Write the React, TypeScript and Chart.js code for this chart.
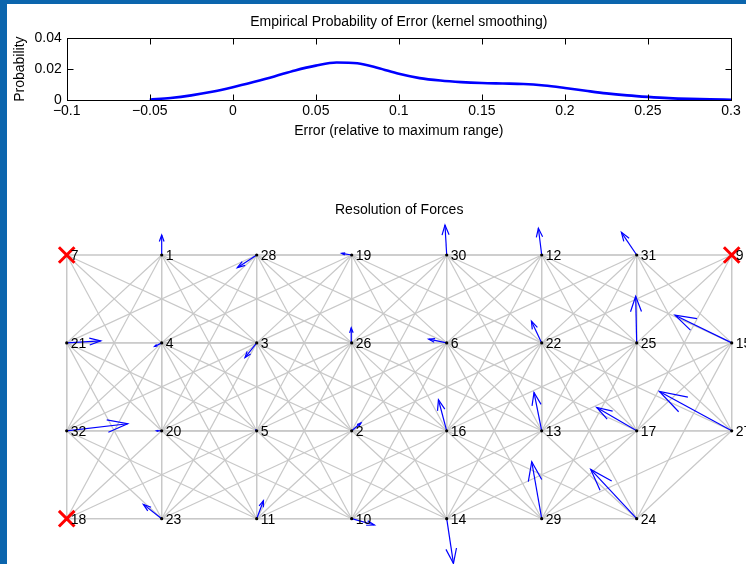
import { useEffect, useRef } from 'react';
import { Chart, registerables } from 'chart.js';

Chart.register(...registerables);

const FONT = "'Liberation Sans', Arial, Helvetica, sans-serif";

// Kernel-smoothed density of the relative error
const errorGrid = [
  -0.05, -0.0375, -0.025, -0.0125, 0, 0.0125, 0.025, 0.0375, 0.05, 0.0625, 0.075, 0.0875,
  0.1, 0.1125, 0.125, 0.1375, 0.15, 0.1625, 0.175, 0.1875, 0.2, 0.2125, 0.225, 0.2375, 0.25,
  0.2625, 0.275, 0.2875, 0.3,
];
const errorDensity = [
  0.0002, 0.0013, 0.003, 0.0053, 0.0083, 0.0117, 0.0153, 0.0192, 0.0223, 0.0243, 0.0238, 0.0208,
  0.017, 0.0142, 0.0126, 0.0116, 0.011, 0.0107, 0.0104, 0.0094, 0.0078, 0.006, 0.0043, 0.003, 0.002,
  0.0012, 0.0007, 0.0004, 0.0002,
];
const errorTicks = { min: -0.1, max: 0.3, step: 0.05 };
const probTicks = { min: 0, max: 0.04, step: 0.02 };

// Truss joints (grid column / level) and the resolved force at each joint
const jointIds = [1, 2, 3, 4, 5, 6, 7, 9, 10, 11, 12, 13, 14, 15, 16, 17, 18, 19, 20, 21, 22, 23, 24, 25, 26, 27, 28, 29, 30, 31, 32];
const jointX = [1, 3, 2, 1, 2, 4, 0, 7, 3, 2, 5, 5, 4, 7, 4, 6, 0, 3, 1, 0, 5, 1, 6, 6, 3, 7, 2, 5, 4, 6, 0];
const jointY = [3, 1, 2, 2, 1, 2, 3, 3, 0, 0, 3, 1, 0, 2, 1, 1, 0, 3, 1, 2, 2, 0, 0, 2, 2, 1, 3, 0, 3, 3, 1];
const forceU = [0, 0.098, -0.123, -0.074, -0.01, -0.189, 0, 0, 0.239, 0.071, -0.035, -0.081, 0.071, -0.597, -0.087, -0.421, 0, -0.105, -0.053, 0.358, -0.108, -0.193, -0.484, -0.011, -0.005, -0.761, -0.204, -0.105, -0.018, -0.161, 0.642];
const forceV = [0.228, 0.088, -0.167, -0.04, 0.01, 0.042, 0, 0, -0.072, 0.205, 0.304, 0.436, -0.509, 0.315, 0.353, 0.265, 0, 0.019, 0, 0.023, 0.247, 0.163, 0.561, 0.531, 0.171, 0.447, -0.144, 0.648, 0.341, 0.258, 0.08];
const fixedJoints = [7, 9, 18];
// members join every pair of joints up to a knight's move apart (squared grid distance)
const memberReachSq = 5;

const fmtTick = (v: number) => String(Math.round(v * 1000) / 1000).replace('-', '\u2212');

const framePlugin = {
  id: 'frame',
  afterDraw(chart: any) {
    const { ctx, chartArea, scales } = chart;
    const l = Math.round(chartArea.left) + 0.5;
    const r = Math.round(chartArea.right) + 0.5;
    const t = Math.round(chartArea.top) + 0.5;
    const b = Math.round(chartArea.bottom) + 0.5;
    const len = 6;
    ctx.save();
    ctx.strokeStyle = '#000';
    ctx.lineWidth = 1;
    ctx.beginPath();
    for (const tk of scales.x.ticks) {
      const px = Math.round(scales.x.getPixelForValue(tk.value)) + 0.5;
      ctx.moveTo(px, b);
      ctx.lineTo(px, b - len);
      ctx.moveTo(px, t);
      ctx.lineTo(px, t + len);
    }
    for (const tk of scales.y.ticks) {
      const py = Math.round(scales.y.getPixelForValue(tk.value)) + 0.5;
      ctx.moveTo(l, py);
      ctx.lineTo(l + len, py);
      ctx.moveTo(r, py);
      ctx.lineTo(r - len, py);
    }
    ctx.stroke();
    ctx.strokeRect(l, t, r - l, b - t);
    ctx.restore();
  },
};

const labelPlugin = {
  id: 'jointLabels',
  afterDatasetsDraw(chart: any) {
    const { ctx, scales } = chart;
    ctx.save();
    ctx.font = `14px ${FONT}`;
    ctx.fillStyle = '#000';
    ctx.textAlign = 'left';
    ctx.textBaseline = 'middle';
    jointIds.forEach((id, i) => {
      const px = scales.x.getPixelForValue(jointX[i]);
      const py = scales.y.getPixelForValue(jointY[i]);
      ctx.fillText(String(id), px + 4, py + 1.5);
    });
    ctx.restore();
  },
};

function buildTrussDatasets() {
  const sets: any[] = [];
  // anchors
  sets.push({
    data: fixedJoints.map((id) => {
      const i = jointIds.indexOf(id);
      return { x: jointX[i], y: jointY[i] };
    }),
    pointStyle: 'crossRot',
    pointRadius: 11,
    pointBorderWidth: 3,
    borderColor: '#ff0000',
    backgroundColor: '#ff0000',
    showLine: false,
    clip: false,
    order: 1,
  });
  // joints
  sets.push({
    data: jointIds.map((_, i) => ({ x: jointX[i], y: jointY[i] })),
    pointRadius: 1.6,
    pointBorderWidth: 0,
    backgroundColor: '#000',
    borderColor: '#000',
    showLine: false,
    clip: false,
    order: 2,
  });
  // force arrows (shaft + open head, quiver style)
  const a = 0.33;
  const bta = 0.33;
  jointIds.forEach((_, i) => {
    const u = forceU[i];
    const v = forceV[i];
    if (u === 0 && v === 0) return;
    const x0 = jointX[i];
    const y0 = jointY[i];
    const tx = x0 + u;
    const ty = y0 + v;
    const common = {
      showLine: true,
      borderColor: '#0000ff',
      borderWidth: 1.2,
      pointRadius: 0,
      clip: false,
      order: 3,
    };
    sets.push({ ...common, data: [{ x: x0, y: y0 }, { x: tx, y: ty }] });
    sets.push({
      ...common,
      data: [
        { x: tx - a * (u + bta * v), y: ty - a * (v - bta * u) },
        { x: tx, y: ty },
        { x: tx - a * (u - bta * v), y: ty - a * (v + bta * u) },
      ],
    });
  });
  // members
  for (let i = 0; i < jointIds.length; i++) {
    for (let j = i + 1; j < jointIds.length; j++) {
      const dx = jointX[i] - jointX[j];
      const dy = jointY[i] - jointY[j];
      if (dx * dx + dy * dy <= memberReachSq) {
        sets.push({
          data: [{ x: jointX[i], y: jointY[i] }, { x: jointX[j], y: jointY[j] }],
          showLine: true,
          borderColor: '#c8c8c8',
          borderWidth: 1.2,
          pointRadius: 0,
          clip: false,
          order: 4,
        });
      }
    }
  }
  return sets;
}

export default function App() {
  const topRef = useRef<HTMLCanvasElement>(null);
  const botRef = useRef<HTMLCanvasElement>(null);

  useEffect(() => {
    Chart.defaults.font.family = FONT;
    Chart.defaults.font.size = 14;
    Chart.defaults.color = '#000';

    const font = { family: FONT, size: 14, weight: 'normal' as const };

    const top = new Chart(topRef.current!, {
      type: 'scatter',
      data: {
        datasets: [
          {
            data: errorGrid.map((x, i) => ({ x, y: errorDensity[i] })),
            showLine: true,
            borderColor: '#0000ff',
            borderWidth: 2.6,
            pointRadius: 0,
            cubicInterpolationMode: 'monotone',
            clip: false,
          } as any,
        ],
      },
      options: {
        responsive: false,
        animation: false,
        events: [],
        layout: { padding: { left: 0, right: 15, top: 0, bottom: 20.6 } },
        plugins: {
          legend: { display: false },
          tooltip: { enabled: false },
          title: {
            display: true,
            fullSize: false,
            text: 'Empirical Probability of Error (kernel smoothing)',
            color: '#000',
            font,
            padding: { top: 13.4, bottom: 8.1 },
          },
        },
        scales: {
          x: {
            type: 'linear',
            min: errorTicks.min,
            max: errorTicks.max,
            grid: { display: false, drawTicks: false },
            border: { display: false },
            ticks: {
              stepSize: errorTicks.step,
              padding: 2.5,
              color: '#000',
              font,
              maxRotation: 0,
              autoSkip: false,
              callback: (v: any) => fmtTick(Number(v)),
            },
            title: { display: true, text: 'Error (relative to maximum range)', color: '#000', font, padding: 0 },
            afterFit: (s: any) => {
              s.height = 39.4;
            },
          },
          y: {
            type: 'linear',
            min: probTicks.min,
            max: probTicks.max,
            grid: { display: false, drawTicks: false },
            border: { display: false },
            ticks: {
              stepSize: probTicks.step,
              padding: 5,
              color: '#000',
              font,
              callback: (v: any) => fmtTick(Number(v)),
            },
            title: { display: true, text: 'Probability', color: '#000', font, padding: { top: 12.2, bottom: 0 } },
            afterFit: (s: any) => {
              s.width = 66.7;
            },
          },
        },
      },
      plugins: [framePlugin],
    });

    const bot = new Chart(botRef.current!, {
      type: 'scatter',
      data: { datasets: buildTrussDatasets() },
      options: {
        responsive: false,
        animation: false,
        events: [],
        layout: { padding: { left: 66.7, right: 14.3, top: 0, bottom: 45.3 } },
        plugins: {
          legend: { display: false },
          tooltip: { enabled: false },
          title: {
            display: true,
            fullSize: false,
            text: 'Resolution of Forces',
            color: '#000',
            font,
            padding: { top: 12.2, bottom: 36 },
          },
        },
        scales: {
          x: { type: 'linear', min: 0, max: 7, display: false },
          y: { type: 'linear', min: 0, max: 3, display: false },
        },
      },
      plugins: [labelPlugin],
    });

    return () => {
      top.destroy();
      bot.destroy();
    };
  }, []);

  return (
    <div style={{ position: 'fixed', inset: 0, overflow: 'hidden', background: '#0b65ad' }}>
      <div style={{ position: 'absolute', left: 7, top: 4, right: 0, bottom: 0, background: '#ffffff' }} />
      <canvas ref={topRef} width={746} height={160} style={{ position: 'absolute', left: 0, top: 0 }} />
      <canvas ref={botRef} width={746} height={374} style={{ position: 'absolute', left: 0, top: 190 }} />
    </div>
  );
}
